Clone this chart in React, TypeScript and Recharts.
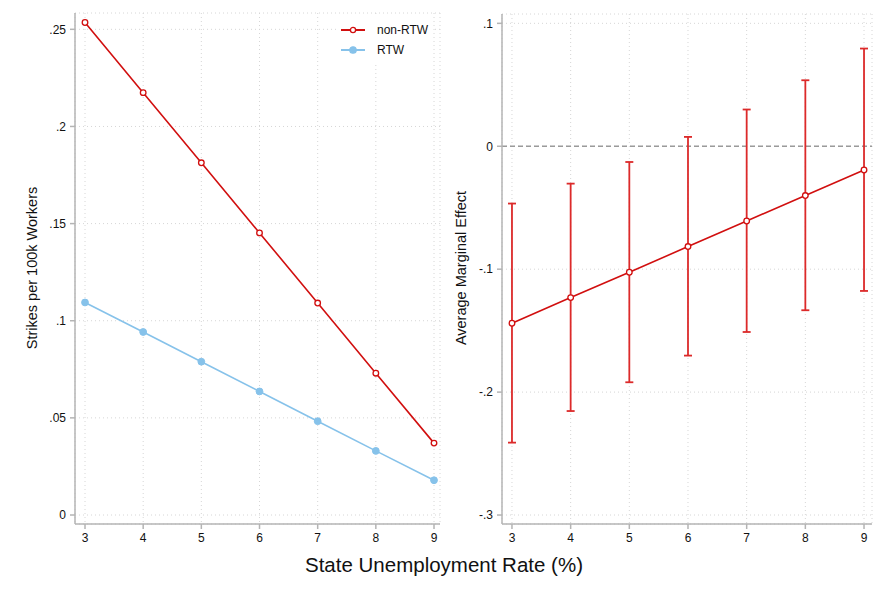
import React from "react";
import {
  CartesianGrid,
  ErrorBar,
  Legend,
  Line,
  LineChart,
  ReferenceLine,
  XAxis,
  YAxis,
} from "recharts";

// unemployment rate (%) on the x axis of both panels
const rates = [3, 4, 5, 6, 7, 8, 9];

// left panel: predicted strikes per 100k workers
const nonRtw = [0.2535, 0.2174, 0.1813, 0.1452, 0.1091, 0.073, 0.037];
const rtw = [0.1094, 0.0942, 0.0789, 0.0636, 0.0483, 0.033, 0.0179];

// right panel: average marginal effect with 95% CI
const ame = [-0.144, -0.1231, -0.1025, -0.0816, -0.0608, -0.0401, -0.0193];
const ciLow = [-0.2411, -0.2154, -0.192, -0.1703, -0.1511, -0.1334, -0.1177];
const ciHigh = [-0.0466, -0.0304, -0.0128, 0.0076, 0.0299, 0.0537, 0.0795];

const leftTicks = [0, 0.05, 0.1, 0.15, 0.2, 0.25];
const leftTickLabels = ["0", ".05", ".1", ".15", ".2", ".25"];
const rightTicks = [-0.3, -0.2, -0.1, 0, 0.1];
const rightTickLabels = ["-.3", "-.2", "-.1", "0", ".1"];

const RED = "#d10f0f";
const BLUE = "#86c2ea";
const AXIS = "#b4b4b4";
const GRID = "#d6d6d6";
const FONT = "'Liberation Sans', Arial, sans-serif";

const leftData = rates.map((r, i) => ({ rate: r, nonRtw: nonRtw[i], rtw: rtw[i] }));
const rightData = rates.map((r, i) => ({
  rate: r,
  ame: ame[i],
  err: [ame[i] - ciLow[i], ciHigh[i] - ame[i]],
}));

const tickStyle = { fontSize: 12, fill: "#111", fontFamily: FONT };
const axisLineStyle = { stroke: AXIS, strokeWidth: 1.5 };

function LegendBox() {
  const items = [
    { label: "non-RTW", color: RED, hollow: true },
    { label: "RTW", color: BLUE, hollow: false },
  ];
  return (
    <div style={{ background: "#fff", padding: "4px 0", fontFamily: FONT, fontSize: 12 }}>
      {items.map((it) => (
        <div key={it.label} style={{ display: "flex", alignItems: "center", height: 20 }}>
          <svg width={26} height={10} style={{ marginLeft: 3 }}>
            <line x1={0} y1={5} x2={24} y2={5} stroke={it.color} strokeWidth={2} />
            <circle
              cx={12}
              cy={5}
              r={it.hollow ? 2.6 : 3.2}
              fill={it.hollow ? "#fff" : it.color}
              stroke={it.color}
              strokeWidth={1.3}
            />
          </svg>
          <span style={{ marginLeft: 10, color: "#111" }}>{it.label}</span>
        </div>
      ))}
    </div>
  );
}

export default function App() {
  return (
    <div
      style={{
        position: "absolute",
        left: 0,
        top: 0,
        width: 888,
        height: 592,
        background: "#fff",
        fontFamily: FONT,
      }}
    >
      <div style={{ position: "absolute", left: 0, top: 0 }}>
        <LineChart width={445} height={592} data={leftData} margin={{ top: 13, right: 5, bottom: 0, left: 0 }}>
          <CartesianGrid stroke={GRID} strokeDasharray="1 3" />
          <XAxis
            dataKey="rate"
            type="number"
            domain={[2.828, 9.103]}
            ticks={rates}
            height={68}
            axisLine={axisLineStyle}
            tickLine={axisLineStyle}
            tickSize={5}
            tickMargin={4}
            tick={tickStyle}
            allowDataOverflow
          />
          <YAxis
            type="number"
            domain={[-0.00463, 0.2584]}
            ticks={leftTicks}
            tickFormatter={(v) => leftTickLabels[leftTicks.indexOf(v)] ?? String(v)}
            width={75}
            axisLine={axisLineStyle}
            tickLine={axisLineStyle}
            tickSize={5}
            tickMargin={4}
            tick={tickStyle}
            allowDataOverflow
          />
          <Legend
            layout="vertical"
            align="center"
            verticalAlign="middle"
            content={() => <LegendBox />}
            wrapperStyle={{ top: 16, left: 338, width: 95, height: 48 }}
          />
          <Line
            dataKey="nonRtw"
            name="non-RTW"
            stroke={RED}
            strokeWidth={1.6}
            dot={{ r: 2.8, fill: "#fff", stroke: RED, strokeWidth: 1.3 }}
            isAnimationActive={false}
          />
          <Line
            dataKey="rtw"
            name="RTW"
            stroke={BLUE}
            strokeWidth={1.6}
            dot={{ r: 3.4, fill: BLUE, stroke: BLUE, strokeWidth: 1 }}
            isAnimationActive={false}
          />
        </LineChart>
      </div>

      <div style={{ position: "absolute", left: 445, top: 0 }}>
        <LineChart width={443} height={592} data={rightData} margin={{ top: 14, right: 16, bottom: 0, left: 0 }}>
          <CartesianGrid stroke={GRID} strokeDasharray="1 3" />
          <XAxis
            dataKey="rate"
            type="number"
            domain={[2.83, 9.136]}
            ticks={rates}
            height={68}
            axisLine={axisLineStyle}
            tickLine={axisLineStyle}
            tickSize={5}
            tickMargin={4}
            tick={tickStyle}
            allowDataOverflow
          />
          <YAxis
            type="number"
            domain={[-0.3073, 0.1076]}
            ticks={rightTicks}
            tickFormatter={(v) => rightTickLabels[rightTicks.indexOf(v)] ?? String(v)}
            width={57}
            axisLine={axisLineStyle}
            tickLine={axisLineStyle}
            tickSize={5}
            tickMargin={4}
            tick={tickStyle}
            allowDataOverflow
          />
          <ReferenceLine y={0} stroke="#9a9a9a" strokeWidth={1.6} strokeDasharray="5 3" />
          <Line
            dataKey="ame"
            stroke={RED}
            strokeWidth={1.6}
            dot={{ r: 2.8, fill: "#fff", stroke: RED, strokeWidth: 1.3 }}
            isAnimationActive={false}
          >
            <ErrorBar
              dataKey="err"
              direction="y"
              width={4}
              stroke="#dc2a2a"
              strokeWidth={1.8}
              isAnimationActive={false}
            />
          </Line>
        </LineChart>
      </div>

      <div
        style={{
          position: "absolute",
          left: 32,
          top: 268,
          transform: "translate(-50%, -50%) rotate(-90deg)",
          whiteSpace: "nowrap",
          fontSize: 14.5,
          color: "#111",
        }}
      >
        Strikes per 100k Workers
      </div>
      <div
        style={{
          position: "absolute",
          left: 461,
          top: 268,
          transform: "translate(-50%, -50%) rotate(-90deg)",
          whiteSpace: "nowrap",
          fontSize: 14.5,
          color: "#111",
        }}
      >
        Average Marginal Effect
      </div>
      <div
        style={{
          position: "absolute",
          left: 444,
          top: 565,
          transform: "translate(-50%, -50%)",
          whiteSpace: "nowrap",
          fontSize: 20.5,
          color: "#111",
        }}
      >
        State Unemployment Rate (%)
      </div>
    </div>
  );
}
